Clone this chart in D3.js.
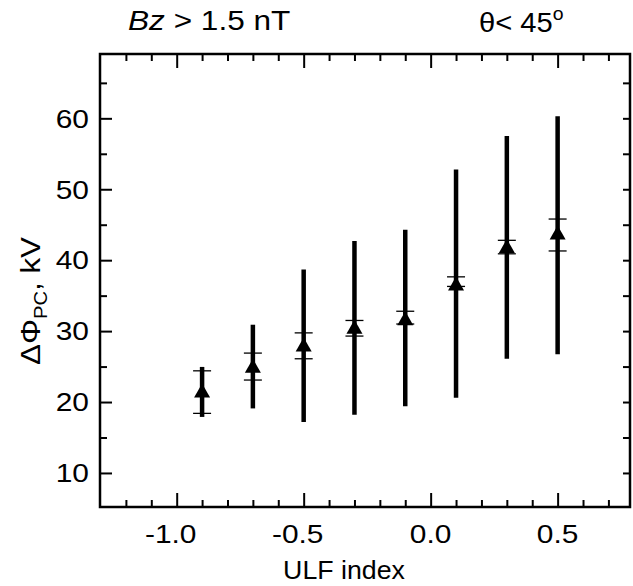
<!DOCTYPE html>
<html>
<head>
<meta charset="utf-8">
<script src="https://cdn.jsdelivr.net/npm/d3@7"></script>
<style>
  html, body { margin: 0; padding: 0; background: #fff; }
  svg { display: block; }
  text { font-family: "Liberation Sans", Arial, sans-serif; fill: #000; }
</style>
</head>
<body>
<svg id="chart" width="633" height="586"></svg>
<script>
// ---- data ----
const ulfIndex = [-0.9, -0.7, -0.5, -0.3, -0.1, 0.1, 0.3, 0.5];
const meanPotential = [21.4, 24.9, 27.9, 30.4, 31.6, 36.5, 41.8, 43.7];
const semLow  = [18.4, 23.1, 26.1, 29.3, 31.0, 36.3, 40.9, 41.3];
const semHigh = [24.4, 26.9, 29.75, 31.5, 32.8, 37.65, 42.8, 45.8];
const sdLow   = [17.9, 19.1, 17.2, 18.2, 19.4, 20.6, 26.1, 26.75];
const sdHigh  = [24.95, 30.9, 38.7, 42.7, 44.3, 52.8, 57.5, 60.3];
const xMajorTicks = [-1.0, -0.5, 0.0, 0.5];
const xTickLabels = ["-1.0", "-0.5", "0.0", "0.5"];
const xMinorTicks = [-1.2, -1.1, -0.9, -0.8, -0.7, -0.6, -0.4, -0.3, -0.2, -0.1, 0.1, 0.2, 0.3, 0.4, 0.6, 0.7];
const yMajorTicks = [10, 20, 30, 40, 50, 60];
const yTickLabels = ["10", "20", "30", "40", "50", "60"];
const yMinorTicks = [15, 25, 35, 45, 55, 65];

const rows = ulfIndex.map((u, i) => ({
  u, mean: meanPotential[i], sl: semLow[i], sh: semHigh[i], dl: sdLow[i], dh: sdHigh[i]
}));

// ---- layout ----
const L = 100, R = 630, T = 54, B = 507;
const svg = d3.select("#chart");
const x = d3.scaleLinear().domain([-1.302, 0.785]).range([L, R]);
const y = d3.scaleLinear().domain([5.2, 69.07]).range([B, T]);

// text drawn with a slight horizontal stretch, like the reference
function sText(parent, px, py, sx, anchor, size, rot) {
  const g = parent.append("g")
    .attr("transform", `translate(${px},${py})` + (rot ? ` rotate(${rot})` : "") + ` scale(${sx},1)`);
  return g.append("text").attr("text-anchor", anchor || "start").attr("font-size", size);
}

// ---- axes (ticks inward) ----
function styleAxis(g) {
  g.select(".domain").remove();
  g.selectAll(".tick line").attr("stroke", "#000").attr("stroke-width", 2);
  g.selectAll(".tick text").remove();
}
svg.append("g").attr("transform", `translate(0,${B})`)
  .call(d3.axisBottom(x).tickValues(xMajorTicks).tickSize(-14)).call(styleAxis);
svg.append("g").attr("transform", `translate(0,${B})`)
  .call(d3.axisBottom(x).tickValues(xMinorTicks).tickSize(-7)).call(styleAxis);
svg.append("g").attr("transform", `translate(0,${T})`)
  .call(d3.axisTop(x).tickValues(xMajorTicks).tickSize(-14)).call(styleAxis);
svg.append("g").attr("transform", `translate(0,${T})`)
  .call(d3.axisTop(x).tickValues(xMinorTicks).tickSize(-7)).call(styleAxis);
svg.append("g").attr("transform", `translate(${L},0)`)
  .call(d3.axisLeft(y).tickValues(yMajorTicks).tickSize(-12)).call(styleAxis);
svg.append("g").attr("transform", `translate(${L},0)`)
  .call(d3.axisLeft(y).tickValues(yMinorTicks).tickSize(-7)).call(styleAxis);
svg.append("g").attr("transform", `translate(${R},0)`)
  .call(d3.axisRight(y).tickValues(yMajorTicks.concat(yMinorTicks)).tickSize(-7)).call(styleAxis);

// tick labels
const xLab = svg.append("g");
xMajorTicks.forEach((v, i) => {
  const lab = xTickLabels[i];
  sText(xLab, x(v) - (lab.startsWith("-") ? 6 : 0), 543, 1.15, "middle", 26).text(lab);
});
const yLab = svg.append("g");
yMajorTicks.forEach((v, i) => {
  sText(yLab, 89, y(v) + 9.3, 1.15, "end", 26).text(yTickLabels[i]);
});

// frame
svg.append("rect").attr("x", L).attr("y", T).attr("width", R - L).attr("height", B - T)
  .attr("fill", "none").attr("stroke", "#000").attr("stroke-width", 2.5);

// ---- marks ----
const g = svg.append("g");
g.selectAll("line.sd").data(rows).join("line").attr("class", "sd")
  .attr("x1", d => x(d.u)).attr("x2", d => x(d.u))
  .attr("y1", d => y(d.dl)).attr("y2", d => y(d.dh))
  .attr("stroke", "#000").attr("stroke-width", 4.5);
g.selectAll("line.capH").data(rows).join("line").attr("class", "capH")
  .attr("x1", d => x(d.u) - 9).attr("x2", d => x(d.u) + 9)
  .attr("y1", d => y(d.sh)).attr("y2", d => y(d.sh))
  .attr("stroke", "#000").attr("stroke-width", 1.3);
g.selectAll("line.capL").data(rows).join("line").attr("class", "capL")
  .attr("x1", d => x(d.u) - 9).attr("x2", d => x(d.u) + 9)
  .attr("y1", d => y(d.sl)).attr("y2", d => y(d.sl))
  .attr("stroke", "#000").attr("stroke-width", 1.3);
g.selectAll("path.tri").data(rows).join("path").attr("class", "tri")
  .attr("d", d => {
    const cx = x(d.u), cy = y(d.mean);
    return `M${cx},${cy - 8.5} L${cx + 8},${cy + 5.5} L${cx - 8},${cy + 5.5} Z`;
  })
  .attr("fill", "#000");

// ---- labels ----
sText(svg, 344, 579, 1.07, "middle", 25).text("ULF index");

const yl = sText(svg, 40, 301, 1.12, "middle", 28, -90);
yl.append("tspan").text("ΔΦ");
yl.append("tspan").attr("font-size", 18).attr("dy", 7).text("PC");
yl.append("tspan").attr("dy", -7).text(", kV");

const t1 = sText(svg, 128, 30, 1.17, "start", 27);
t1.append("tspan").attr("font-style", "italic").text("Bz");
t1.append("tspan").text(" > 1.5 nT");

const t2 = sText(svg, 479, 32, 1.08, "start", 27);
t2.append("tspan").text("θ< 45");
t2.append("tspan").attr("font-size", 18).attr("dy", -12).text("o");
</script>
</body>
</html>
